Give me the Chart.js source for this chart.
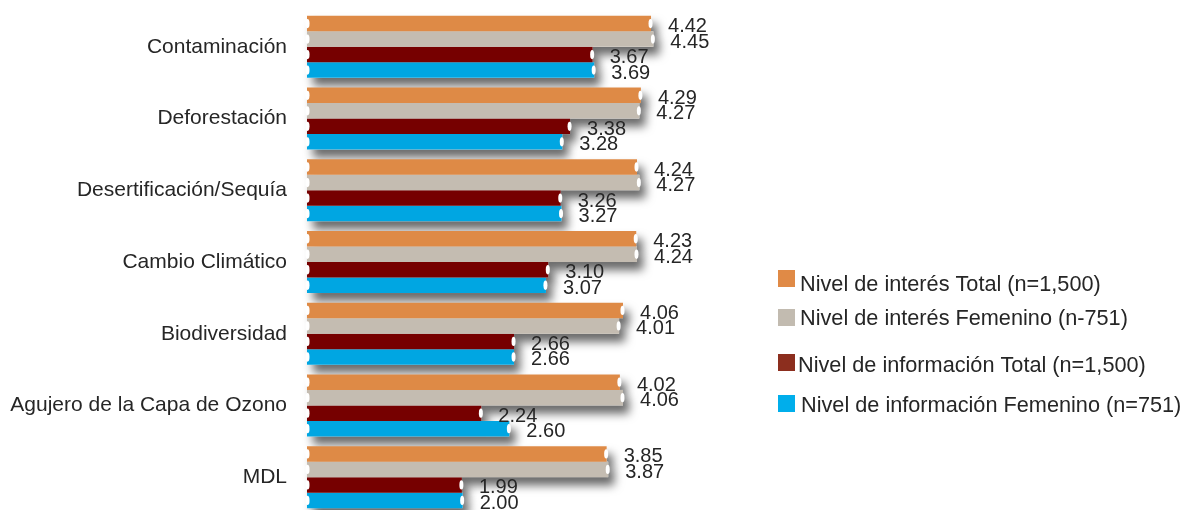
<!DOCTYPE html>
<html>
<head>
<meta charset="utf-8">
<script src="https://cdn.jsdelivr.net/npm/chart.js@4"></script>
<style>
    html, body { margin: 0; padding: 0; background: #fff; overflow: hidden; }
</style>
</head>
<body>
<canvas id="chart" width="1186" height="520"></canvas>
<script>
const categories = ['Contaminación', 'Deforestación', 'Desertificación/Sequía', 'Cambio Climático',
    'Biodiversidad', 'Agujero de la Capa de Ozono', 'MDL'];
const seriesNames = ['Nivel de interés Total (n=1,500)', 'Nivel de interés Femenino (n-751)',
    'Nivel de información Total (n=1,500)', 'Nivel de información Femenino (n=751)'];
const interesTotal = [4.42, 4.29, 4.24, 4.23, 4.06, 4.02, 3.85];
const interesFemenino = [4.45, 4.27, 4.27, 4.24, 4.01, 4.06, 3.87];
const infoTotal = [3.67, 3.38, 3.26, 3.10, 2.66, 2.24, 1.99];
const infoFemenino = [3.69, 3.28, 3.27, 3.07, 2.66, 2.60, 2.00];

const barColors = ['#DE8A46', '#C4BCB1', '#760000', '#00A6E2'];
const legendColors = ['#E08A46', '#C2BBB0', '#8C2E1E', '#00AEEB'];
const textColor = '#262626';
const fontFamily = '"Liberation Sans", Arial, sans-serif';

// legend rows: box top y, text x, text baseline
const legendRows = [
    { boxY: 270, textX: 800, baseY: 291 },
    { boxY: 309, textX: 800, baseY: 325 },
    { boxY: 354, textX: 798, baseY: 372 },
    { boxY: 395, textX: 801, baseY: 412 }
];

const barShadow = {
    id: 'barShadow',
    beforeDatasetsDraw(chart) {
        const ctx = chart.ctx;
        ctx.save();
        ctx.shadowColor = 'rgba(0,0,0,0.6)';
        ctx.shadowBlur = 10;
        ctx.shadowOffsetX = 6;
        ctx.shadowOffsetY = 8;
        ctx.fillStyle = '#fff';
        chart.data.datasets.forEach((ds, i) => {
            chart.getDatasetMeta(i).data.forEach(bar => {
                const p = bar.getProps(['x', 'y', 'base', 'height'], true);
                ctx.fillRect(p.base, p.y - p.height / 2, p.x - p.base, p.height);
            });
        });
        ctx.restore();
    }
};

const barEnds = {
    id: 'barEnds',
    afterDatasetsDraw(chart) {
        const ctx = chart.ctx;
        ctx.save();
        chart.data.datasets.forEach((ds, i) => {
            chart.getDatasetMeta(i).data.forEach((bar, j) => {
                const p = bar.getProps(['x', 'y', 'base', 'height'], true);
                ctx.fillStyle = '#fff';
                ctx.beginPath();
                ctx.ellipse(p.x - 0.5, p.y, 2, p.height * 0.3, 0, 0, Math.PI * 2);
                ctx.fill();
                ctx.beginPath();
                ctx.ellipse(p.base + 0.5, p.y, 2, p.height * 0.3, 0, 0, Math.PI * 2);
                ctx.fill();
                ctx.fillStyle = textColor;
                ctx.font = '20px ' + fontFamily;
                ctx.textBaseline = 'middle';
                ctx.textAlign = 'left';
                ctx.fillText(ds.data[j].toFixed(2), p.x + 17, p.y + 3);
            });
        });
        ctx.restore();
    }
};

const sideLegend = {
    id: 'sideLegend',
    afterDraw(chart) {
        const ctx = chart.ctx;
        ctx.save();
        ctx.font = '21.7px ' + fontFamily;
        ctx.textBaseline = 'alphabetic';
        ctx.textAlign = 'left';
        legendRows.forEach((row, i) => {
            ctx.fillStyle = legendColors[i];
            ctx.fillRect(778, row.boxY, 17, 17);
            ctx.fillStyle = textColor;
            ctx.fillText(seriesNames[i], row.textX, row.baseY);
        });
        ctx.restore();
    }
};

const chart = new Chart(document.getElementById('chart'), {
    type: 'bar',
    data: {
        labels: categories,
        datasets: [interesTotal, interesFemenino, infoTotal, infoFemenino].map((d, i) => ({
            label: seriesNames[i],
            data: d,
            backgroundColor: barColors[i],
            borderWidth: 0,
            barPercentage: 1,
            categoryPercentage: 0.865
        }))
    },
    options: {
        indexAxis: 'y',
        responsive: false,
        animation: false,
        layout: { padding: { left: 0, right: 412, top: 11, bottom: 7 } },
        plugins: {
            legend: { display: false },
            tooltip: { enabled: false }
        },
        scales: {
            x: {
                display: false,
                min: 0,
                max: 6
            },
            y: {
                grid: { display: false, drawTicks: false },
                border: { display: false },
                ticks: {
                    color: textColor,
                    padding: 20,
                    font: { family: fontFamily, size: 21 }
                },
                afterFit(scale) {
                    scale.width = 307;
                    scale.paddingTop = 0;
                    scale.paddingBottom = 0;
                }
            }
        }
    },
    plugins: [barShadow, barEnds, sideLegend]
});
</script>
</body>
</html>
